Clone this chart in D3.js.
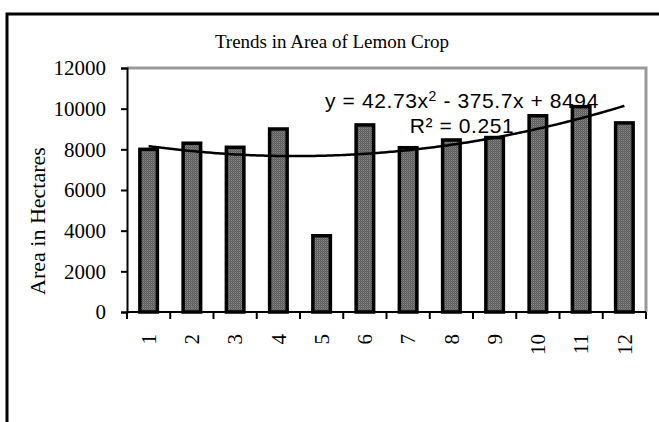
<!DOCTYPE html>
<html>
<head>
<meta charset="utf-8">
<script src="https://cdn.jsdelivr.net/npm/d3@7"></script>
<style>
  body { margin: 0; background: #fff; }
  svg { display: block; }
</style>
</head>
<body>
<div id="vis"></div>
<script>
// data
var years = ["1", "2", "3", "4", "5", "6", "7", "8", "9", "10", "11", "12"];
var area = [8000, 8300, 8100, 9000, 3750, 9200, 8080, 8460, 8580, 9650, 10100, 9300];
var yTicks = [0, 2000, 4000, 6000, 8000, 10000, 12000];
// poly trend shown on the chart
var trendCoef = [8494, -375.7, 42.73];

var W = 659, H = 422;
var serif = "'Liberation Serif', 'Times New Roman', serif";
var svg = d3.select("#vis").append("svg")
    .attr("width", W)
    .attr("height", H);

var margin = {top: 68, right: 13, bottom: 110, left: 127};
var width = W - margin.left - margin.right,
    height = H - margin.top - margin.bottom;

// stippled grey fill for the bars
var defs = svg.append("defs");
var pat = defs.append("pattern")
    .attr("id", "stipple")
    .attr("width", 2).attr("height", 2)
    .attr("patternUnits", "userSpaceOnUse");
pat.append("rect").attr("width", 2).attr("height", 2).attr("fill", "#5c5c5c");
pat.append("rect").attr("width", 1).attr("height", 1).attr("fill", "#8a8a8a");
pat.append("rect").attr("x", 1).attr("y", 1).attr("width", 1).attr("height", 1).attr("fill", "#6e6e6e");

// outer chart border (only top and left are in the frame)
svg.append("path")
    .attr("d", "M7," + H + "V14H" + W)
    .attr("fill", "none")
    .attr("stroke", "#000")
    .attr("stroke-width", 3);

var g = svg.append("g").attr("transform", "translate(" + margin.left + "," + margin.top + ")");

var x = d3.scaleBand().domain(years).range([0, width]).paddingInner(0.595).paddingOuter(0.2975);
var xLin = d3.scaleLinear().domain([0.5, 12.5]).range([0, width]);
var y = d3.scaleLinear().domain([0, 12000]).range([height, 0]);

// plot area frame: grey top and right
g.append("path")
    .attr("d", "M0,0H" + width + "V" + height)
    .attr("fill", "none")
    .attr("stroke", "#999")
    .attr("stroke-width", 3);

g.selectAll(".bar")
    .data(area)
    .enter().append("rect")
    .attr("class", "bar")
    .attr("x", function(d, i) { return x(years[i]); })
    .attr("y", function(d) { return y(d); })
    .attr("width", x.bandwidth())
    .attr("height", function(d) { return height - y(d); })
    .attr("fill", "url(#stipple)")
    .attr("stroke", "#000")
    .attr("stroke-width", 3.5);

// trend line
var trend = d3.range(1, 12.01, 0.1).map(function(t) {
  return [t, trendCoef[0] + trendCoef[1] * t + trendCoef[2] * t * t];
});
g.append("path")
    .datum(trend)
    .attr("fill", "none")
    .attr("stroke", "#000")
    .attr("stroke-width", 2.5)
    .attr("d", d3.line()
      .x(function(d) { return xLin(d[0]); })
      .y(function(d) { return y(d[1]); })
      .curve(d3.curveBasis));

// y axis
var yAxis = g.append("g")
    .call(d3.axisLeft(y).tickValues(yTicks).tickSize(6).tickPadding(15).tickFormat(d3.format("d")));
yAxis.select(".domain").attr("stroke-width", 2);
yAxis.selectAll(".tick line").attr("stroke-width", 2);
yAxis.selectAll("text")
    .attr("font-family", serif)
    .attr("font-size", 21)
    .attr("fill", "#000");

// x axis with ticks between categories
var xAxis = g.append("g")
    .attr("transform", "translate(0," + height + ")");
xAxis.append("line")
    .attr("x1", 0).attr("x2", width)
    .attr("stroke", "#000").attr("stroke-width", 2);
xAxis.selectAll(".sep")
    .data(d3.range(0, 13))
    .enter().append("line")
    .attr("x1", function(d) { return xLin(d + 0.5); })
    .attr("x2", function(d) { return xLin(d + 0.5); })
    .attr("y1", 0).attr("y2", 7)
    .attr("stroke", "#000").attr("stroke-width", 2);
xAxis.selectAll(".lab")
    .data(years)
    .enter().append("text")
    .attr("transform", function(d) { return "translate(" + (x(d) + x.bandwidth() / 2) + ",22) rotate(-90)"; })
    .attr("text-anchor", "end")
    .attr("dy", "0.35em")
    .attr("font-family", serif)
    .attr("font-size", 21)
    .text(function(d) { return d; });

// titles
svg.append("text")
    .attr("x", 332).attr("y", 48)
    .attr("text-anchor", "middle")
    .attr("font-family", serif)
    .attr("font-size", 19)
    .text("Trends in Area of Lemon Crop");

svg.append("text")
    .attr("transform", "translate(45,221) rotate(-90)")
    .attr("text-anchor", "middle")
    .attr("font-family", serif)
    .attr("font-size", 22)
    .text("Area in Hectares");

// trend equation
var eq = svg.append("g")
    .attr("font-family", "'Liberation Sans', Arial, sans-serif")
    .attr("font-size", 21)
    .attr("letter-spacing", 0.6)
    .attr("text-anchor", "middle");
var eq1 = eq.append("text").attr("x", 462).attr("y", 108);
eq1.append("tspan").text("y = 42.73x");
eq1.append("tspan").attr("font-size", 14).attr("dy", -7).text("2");
eq1.append("tspan").attr("dy", 7).text(" - 375.7x + 8494");
eq.append("text").attr("x", 462).attr("y", 133).text("R² = 0.251");
</script>
</body>
</html>
